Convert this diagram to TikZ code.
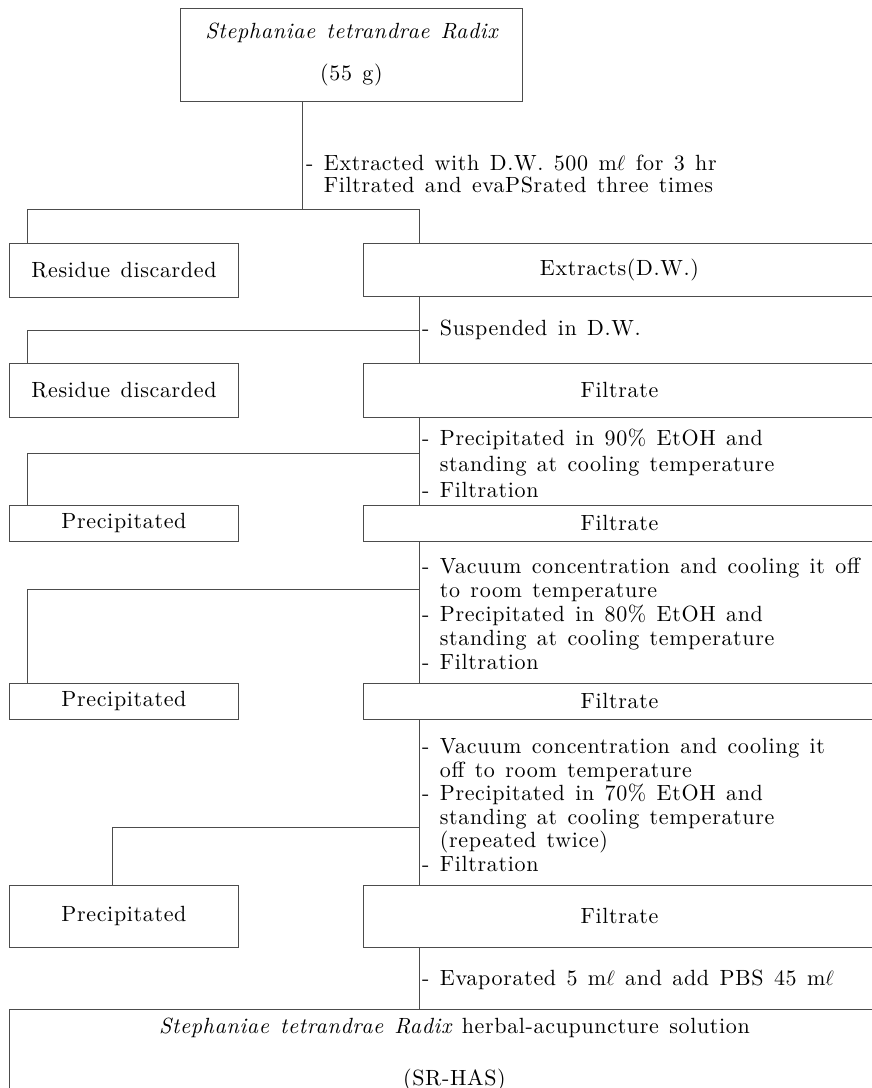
\documentclass[tikz,border=0pt]{standalone}
\usepackage{fontspec}
\setmainfont{lmroman10}[Extension=.otf, UprightFont=*-regular, ItalicFont=*-italic, BoldFont=*-bold, BoldItalicFont=*-bolditalic, LetterSpace=3, WordSpace=1.3]
\usepackage{tikz}
\usetikzlibrary{calc}

\newcommand{\ml}{m$\ell$}
\newcommand{\txtsize}[2]{\fontsize{#1}{#2}\selectfont}
\tikzset{
  box/.style={draw=black!70, line width=0.9pt, rectangle, inner sep=0pt, anchor=north west},
  link/.style={draw=black!70, line width=0.9pt},
  note/.style={anchor=west, align=left, inner sep=0pt}
}

\begin{document}
\begin{tikzpicture}[x=1pt,y=-1pt,font=\txtsize{22}{24}]
\path[use as bounding box] (0,0) rectangle (872,1088);
\clip (0,0) rectangle (872,1088);
% boxes
\node[box, minimum width=342pt, minimum height=93pt, align=center] (src) at (180,8) {\itshape Stephaniae tetrandrae Radix\\[18pt](55 g)};
\node[box, minimum width=229pt, minimum height=54pt] (res1) at (9,243) {Residue discarded};
\node[box, minimum width=512pt, minimum height=53pt] (ext) at (363,243) {Extracts(D.W.)};
\node[box, minimum width=229pt, minimum height=54pt] (res2) at (9,363) {Residue discarded};
\node[box, minimum width=512pt, minimum height=54pt] (fil1) at (363,363) {Filtrate};
\node[box, minimum width=229pt, minimum height=36pt] (pre1) at (9,505) {Precipitated};
\node[box, minimum width=512pt, minimum height=36pt] (fil2) at (363,505) {Filtrate};
\node[box, minimum width=229pt, minimum height=36pt] (pre2) at (9,683) {Precipitated};
\node[box, minimum width=512pt, minimum height=36pt] (fil3) at (363,683) {Filtrate};
\node[box, minimum width=229pt, minimum height=62pt] (pre3) at (9,885) {Precipitated};
\node[box, minimum width=512pt, minimum height=62pt] (fil4) at (363,885) {Filtrate};
\node[box, minimum width=890pt, minimum height=90pt, align=center] (sol) at (9,1009) {{\itshape Stephaniae tetrandrae Radix} herbal-acupuncture solution\\[28pt](SR-HAS)};
% notes
\node[note, font=\txtsize{22}{22}] (n1) at (306,174) {- Extracted with D.W. 500 \ml{} for 3 hr\\\hphantom{- }Filtrated and evaPSrated three times};
\node[note] (n2) at (422,330) {- Suspended in D.W.};
\node[note, font=\txtsize{22}{26}] (n3) at (422,463) {- Precipitated in 90\% EtOH and\\\hphantom{- }standing at cooling temperature\\- Filtration};
\node[note, font=\txtsize{22}{24}] (n4) at (422,614) {- Vacuum concentration and cooling it off\\\hphantom{- }to room temperature\\- Precipitated in 80\% EtOH and\\\hphantom{- }standing at cooling temperature\\- Filtration};
\node[note, font=\txtsize{22}{23.5}] (n5) at (422,805) {- Vacuum concentration and cooling it\\\hphantom{- }off to room temperature\\- Precipitated in 70\% EtOH and\\\hphantom{- }standing at cooling temperature\\\hphantom{- }(repeated twice)\\- Filtration};
\node[note] (n6) at (422,980) {- Evaporated 5 \ml{} and add PBS 45 \ml};
% connectors
\coordinate (a0) at (302,209);
\coordinate (a1) at (27,209);
\coordinate (a2) at (419,209);
\draw[link] (src.south -| a0) -- (a0);
\draw[link] (res1.north -| a1) -- (a1) -- (a2) -- (ext.north -| a2);
\coordinate (b1) at (27,330);
\coordinate (b2) at (419,330);
\draw[link] (ext.south -| b2) -- (fil1.north -| b2);
\draw[link] (res2.north -| b1) -- (b1) -- (b2);
\coordinate (c1) at (27,453);
\coordinate (c2) at (419,453);
\draw[link] (fil1.south -| c2) -- (fil2.north -| c2);
\draw[link] (pre1.north -| c1) -- (c1) -- (c2);
\coordinate (d1) at (27,589);
\coordinate (d2) at (419,589);
\draw[link] (fil2.south -| d2) -- (fil3.north -| d2);
\draw[link] (pre2.north -| d1) -- (d1) -- (d2);
\coordinate (e1) at (112,827);
\coordinate (e2) at (419,827);
\draw[link] (fil3.south -| e2) -- (fil4.north -| e2);
\draw[link] (pre3.north -| e1) -- (e1) -- (e2);
\draw[link] (fil4.south -| e2) -- (sol.north -| e2);
\end{tikzpicture}
\end{document}
